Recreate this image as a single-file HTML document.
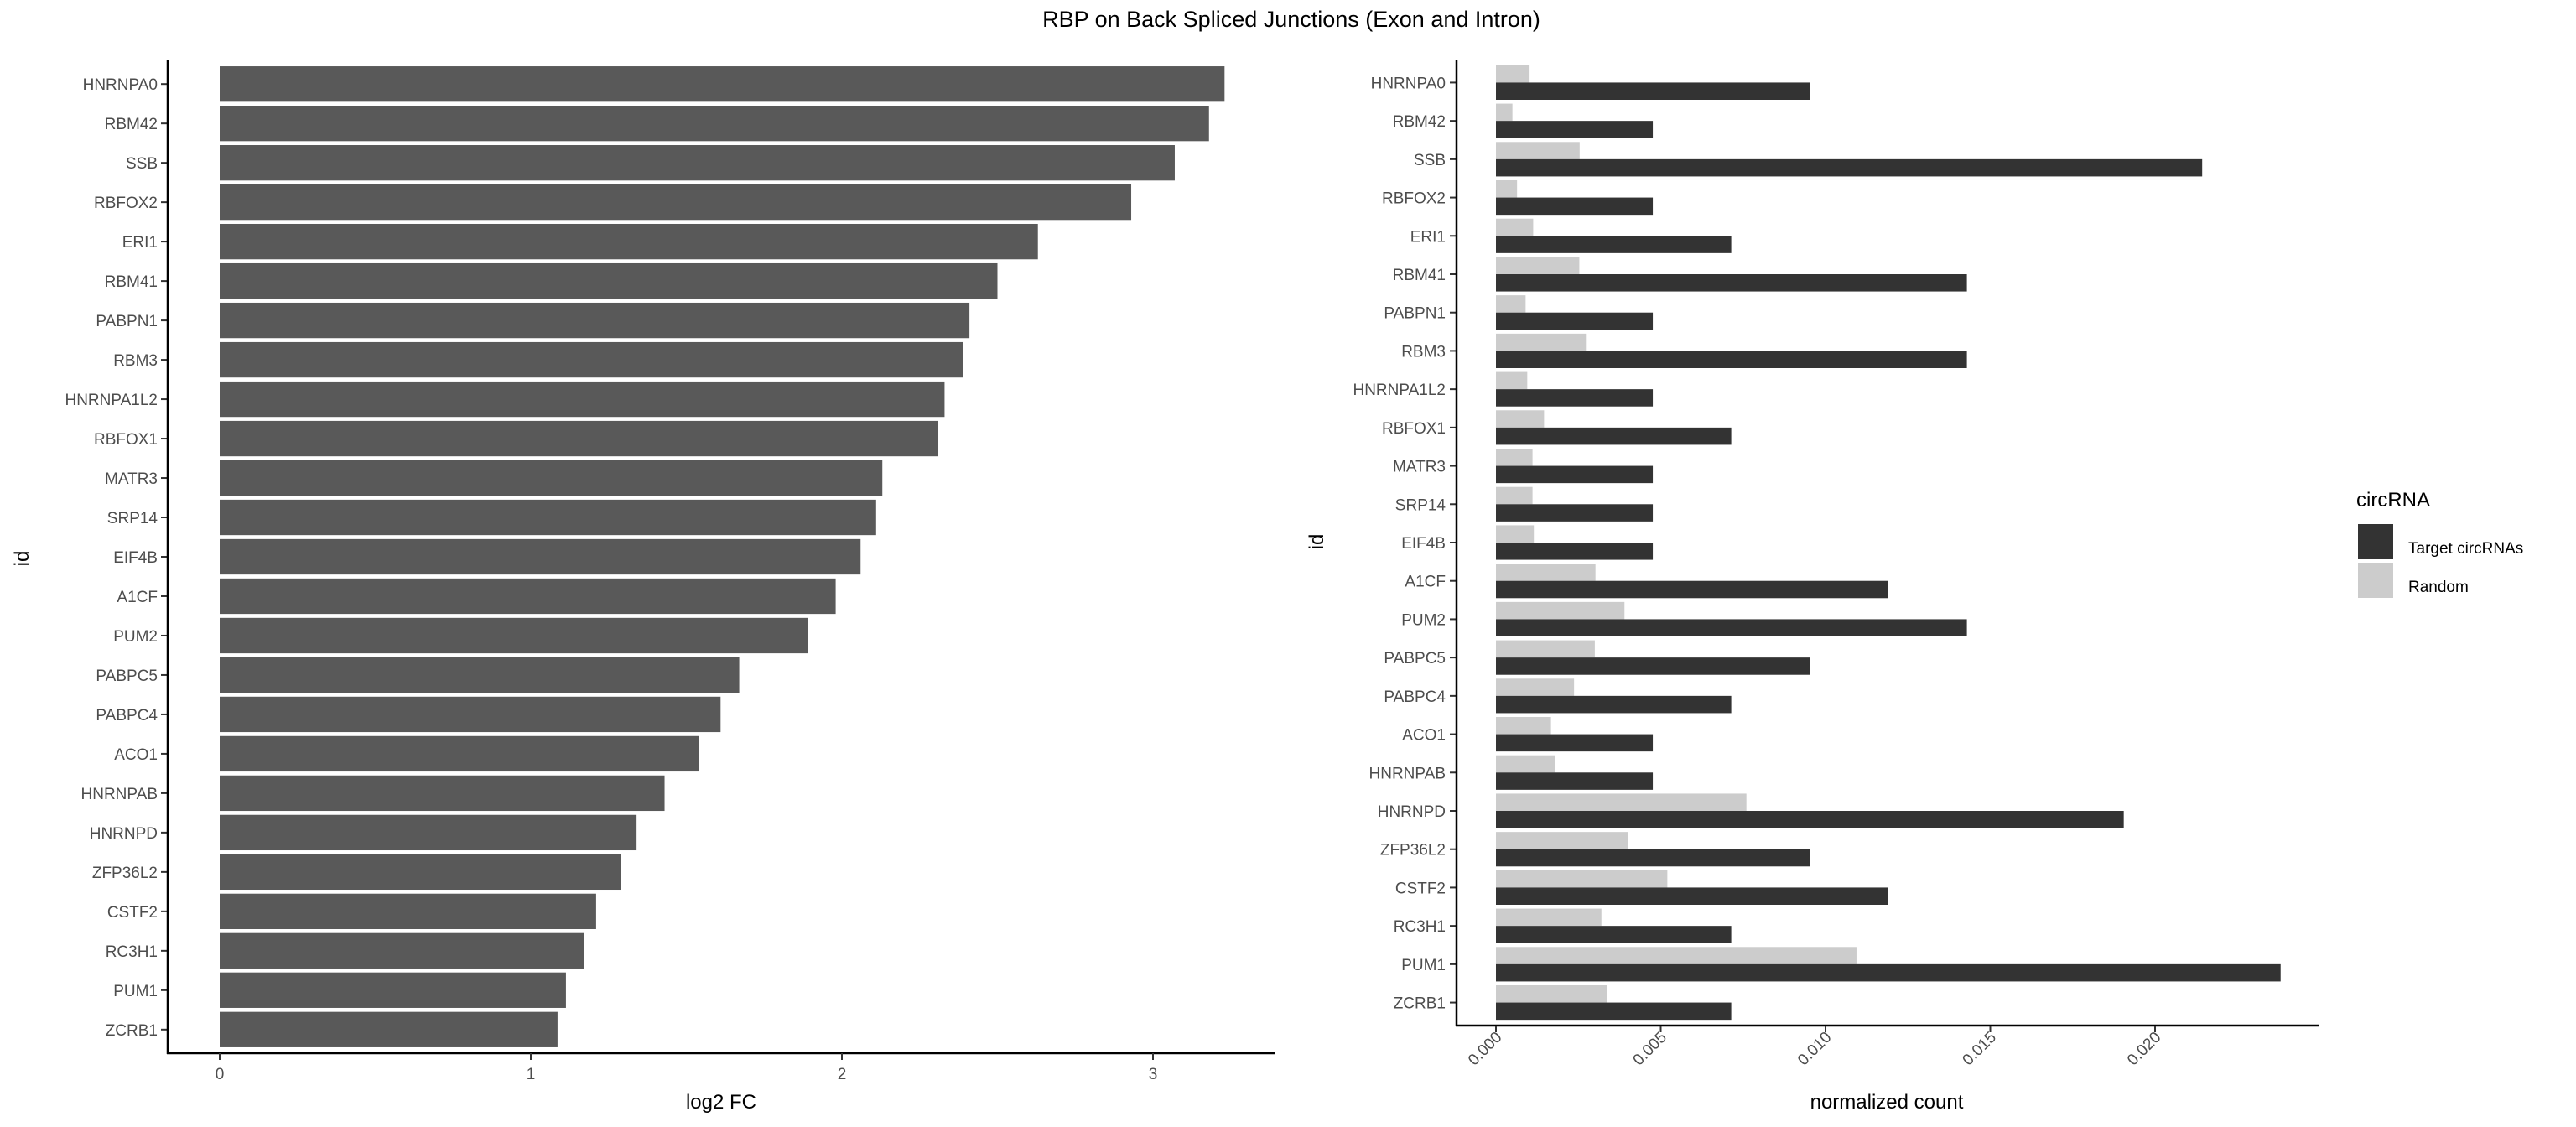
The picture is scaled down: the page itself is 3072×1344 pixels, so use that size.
<!DOCTYPE html>
<html><head><meta charset="utf-8"><style>
html,body{margin:0;padding:0;background:#fff;}
svg{display:block;font-family:"Liberation Sans",Arial,sans-serif;}
</style></head><body>
<svg id="chart" width="3072" height="1344" viewBox="0 0 3072 1344" xmlns="http://www.w3.org/2000/svg">
<text x="1540" y="32" font-size="27" text-anchor="middle" fill="#000">RBP on Back Spliced Junctions (Exon and Intron)</text>
<g id="left"></g>
<g id="right"></g>
<g id="legend">
<text x="2810" y="604" font-size="24" fill="#000">circRNA</text>
<rect x="2812" y="625" width="42" height="42" fill="#333333"/>
<text x="2872" y="660" font-size="19" fill="#000">Target circRNAs</text>
<rect x="2812" y="671" width="42" height="42" fill="#cccccc"/>
<text x="2872" y="706" font-size="19" fill="#000">Random</text>
</g>
</svg>
<script>
const categories = ["HNRNPA0","RBM42","SSB","RBFOX2","ERI1","RBM41","PABPN1","RBM3","HNRNPA1L2","RBFOX1","MATR3","SRP14","EIF4B","A1CF","PUM2","PABPC5","PABPC4","ACO1","HNRNPAB","HNRNPD","ZFP36L2","CSTF2","RC3H1","PUM1","ZCRB1"];
const log2fc = [3.23,3.18,3.07,2.93,2.63,2.50,2.41,2.39,2.33,2.31,2.13,2.11,2.06,1.98,1.89,1.67,1.61,1.54,1.43,1.34,1.29,1.21,1.17,1.113,1.086];
const targetCount = [0.00952,0.00476,0.02143,0.00476,0.00714,0.01429,0.00476,0.01429,0.00476,0.00714,0.00476,0.00476,0.00476,0.01190,0.01429,0.00952,0.00714,0.00476,0.00476,0.01905,0.00952,0.01190,0.00714,0.02381,0.00714];
const randomCount = [0.00102,0.00050,0.00254,0.00064,0.00113,0.00253,0.00090,0.00273,0.00095,0.00146,0.00111,0.00111,0.00115,0.00302,0.00390,0.00300,0.00237,0.00167,0.00180,0.00760,0.00400,0.00520,0.00320,0.01094,0.00337];
const leftTicks = [0,1,2,3];
const leftTickLabels = ["0","1","2","3"];
const rightTicks = [0,0.005,0.010,0.015,0.020];
const rightTickLabels = ["0.000","0.005","0.010","0.015","0.020"];

const NS = "http://www.w3.org/2000/svg";
function mk(parent, tag, attrs){const e=document.createElementNS(NS,tag);for(const k in attrs)e.setAttribute(k,attrs[k]);parent.appendChild(e);return e;}

// Left panel
const L = {x0:200, x1:1520, top:72, bottom:1256, zero:262, perUnit:371};
const lx = v => L.zero + v*L.perUnit;
const lStep = (L.bottom-L.top)/(categories.length+0.2);
const ly = i => L.top + (0.6+i)*lStep;
const lg = document.getElementById('left');
categories.forEach((c,i)=>{
  const r = mk(lg,'rect',{x:lx(0),y:ly(i)-lStep*0.45,width:lx(log2fc[i])-lx(0),height:lStep*0.9,fill:'#595959'});
  
  
  const t = mk(lg,'text',{x:188,y:ly(i)+7,'font-size':19,'text-anchor':'end',fill:'#4d4d4d'});
  t.textContent=c;
  
  
  mk(lg,'line',{x1:192,x2:L.x0,y1:ly(i),y2:ly(i),stroke:'#333','stroke-width':2});
});
mk(lg,'line',{x1:L.x0,x2:L.x0,y1:L.top,y2:L.bottom+1,stroke:'#000','stroke-width':2.5});
mk(lg,'line',{x1:L.x0-1,x2:L.x1,y1:L.bottom,y2:L.bottom,stroke:'#000','stroke-width':2.5});
leftTicks.forEach((v,i)=>{
  mk(lg,'line',{x1:lx(v),x2:lx(v),y1:L.bottom,y2:L.bottom+8,stroke:'#333','stroke-width':2});
  const t=mk(lg,'text',{x:lx(v),y:1287,'font-size':19,'text-anchor':'middle',fill:'#4d4d4d'});
  t.textContent=leftTickLabels[i];
  
  
});
{const t=mk(lg,'text',{x:860,y:1322,'font-size':24,'text-anchor':'middle',fill:'#000'});t.textContent='log2 FC';

}
{const t=mk(lg,'text',{x:34,y:666,'font-size':24,'text-anchor':'middle',fill:'#000',transform:'rotate(-90 34 666)'});t.textContent='id';

}

// Right panel
const R = {x0:1737, x1:2765, top:71, bottom:1223, zero:1784, perUnit:39300};
const rx = v => R.zero + v*R.perUnit;
const rStep = (R.bottom-R.top)/(categories.length+0.2);
const ry = i => R.top + (0.6+i)*rStep;
const rg = document.getElementById('right');
categories.forEach((c,i)=>{
  const h = rStep*0.45;
  const a = mk(rg,'rect',{x:rx(0),y:ry(i)-h,width:rx(randomCount[i])-rx(0),height:h,fill:'#cccccc'});
  
  
  const b = mk(rg,'rect',{x:rx(0),y:ry(i),width:rx(targetCount[i])-rx(0),height:h,fill:'#333333'});
  
  
  const t = mk(rg,'text',{x:1724,y:ry(i)+7,'font-size':19,'text-anchor':'end',fill:'#4d4d4d'});
  t.textContent=c;
  
  
  mk(rg,'line',{x1:1729,x2:R.x0,y1:ry(i),y2:ry(i),stroke:'#333','stroke-width':2});
});
mk(rg,'line',{x1:R.x0,x2:R.x0,y1:R.top,y2:R.bottom+1,stroke:'#000','stroke-width':2.5});
mk(rg,'line',{x1:R.x0-1,x2:R.x1,y1:R.bottom,y2:R.bottom,stroke:'#000','stroke-width':2.5});
rightTicks.forEach((v,i)=>{
  mk(rg,'line',{x1:rx(v),x2:rx(v),y1:R.bottom,y2:R.bottom+8,stroke:'#333','stroke-width':2});
  const x=rx(v)+8, y=1238;
  const t=mk(rg,'text',{x:x,y:y,'font-size':19,'text-anchor':'end',fill:'#4d4d4d',transform:'rotate(-45 '+x+' '+y+')'});
  t.textContent=rightTickLabels[i];
  
  
});
{const t=mk(rg,'text',{x:2250,y:1322,'font-size':24,'text-anchor':'middle',fill:'#000'});t.textContent='normalized count';

}
{const t=mk(rg,'text',{x:1578,y:646,'font-size':24,'text-anchor':'middle',fill:'#000',transform:'rotate(-90 1578 646)'});t.textContent='id';

}
</script>
</body></html>
